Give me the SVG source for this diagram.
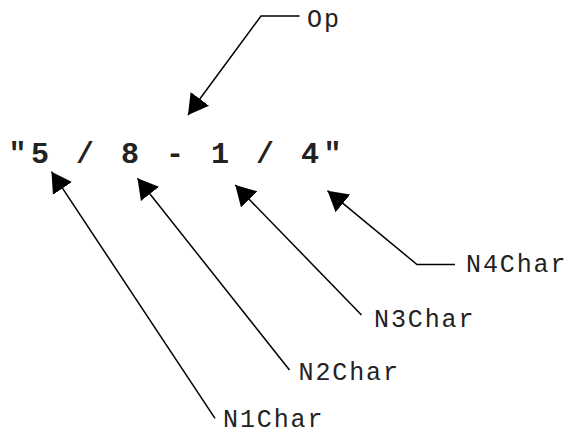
<svg xmlns="http://www.w3.org/2000/svg" width="569" height="431" viewBox="0 0 569 431">
<defs>
<style>
.expr{font-family:"Liberation Mono","DejaVu Sans Mono",monospace;font-weight:bold;font-size:30px;letter-spacing:4.5px;fill:#222}
.lbl{font-family:"Liberation Mono","DejaVu Sans Mono",monospace;font-size:25px;letter-spacing:1.9px;fill:#222}
.conn{fill:none;stroke:#000;stroke-width:1.5}
</style>
<marker id="arr" viewBox="0 0 20 23" refX="20" refY="11.5" markerWidth="20" markerHeight="23" markerUnits="userSpaceOnUse" orient="auto">
<path d="M0,0 L20,11.5 L0,23 Z" fill="#000"/>
</marker>
</defs>
<rect width="569" height="431" fill="#fff"/>
<g id="expression"><text class="expr" x="8.5" y="163" xml:space="preserve">"5 / 8 - 1 / 4"</text></g>
<g id="connectors">
<polyline class="conn" points="299.5,16 261,16 188,115" marker-end="url(#arr)"/>
<polyline class="conn" points="455,264.5 417,264.5 327.5,190.7" marker-end="url(#arr)"/>
<line class="conn" x1="361.5" y1="315" x2="235.3" y2="185" marker-end="url(#arr)"/>
<line class="conn" x1="289.5" y1="370" x2="137.5" y2="178.3" marker-end="url(#arr)"/>
<line class="conn" x1="215" y1="418.3" x2="51.5" y2="171.7" marker-end="url(#arr)"/>
</g>
<g id="Op"><text class="lbl" x="307" y="26.7">Op</text></g>
<g id="N4Char"><text class="lbl" x="466" y="271.7">N4Char</text></g>
<g id="N3Char"><text class="lbl" x="374" y="326.7">N3Char</text></g>
<g id="N2Char"><text class="lbl" x="298.5" y="380">N2Char</text></g>
<g id="N1Char"><text class="lbl" x="223" y="426.5">N1Char</text></g>
</svg>
